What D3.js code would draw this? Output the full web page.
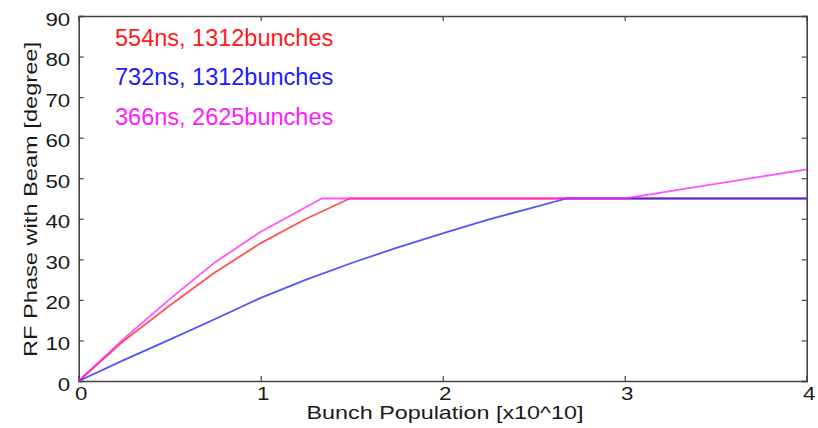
<!DOCTYPE html>
<html>
<head>
<meta charset="utf-8">
<script src="https://cdn.jsdelivr.net/npm/d3@7/dist/d3.min.js"></script>
<style>
  html, body { margin: 0; padding: 0; background: #fff; }
  svg { display: block; }
  text { font-family: "Liberation Sans", Arial, Helvetica, sans-serif; }
</style>
</head>
<body>
<svg id="chart" width="818" height="428"></svg>
<script>
// Bunch population [x10^10] and RF phase [degree] per filling scheme
const popRed     = [0, 0.25, 0.5, 0.75, 1, 1.25, 1.49, 4];
const phaseRed   = [0, 10.0, 18.6, 26.8, 34.0, 40.0, 45, 45];

const popBlue    = [0, 0.25, 0.5, 0.75, 1, 1.25, 1.5, 1.75, 2, 2.25, 2.5, 2.68, 4];
const phaseBlue  = [0, 5.2, 10.2, 15.3, 20.5, 25.0, 29.1, 32.9, 36.4, 39.8, 42.8, 45, 45];

const popMag     = [0, 0.25, 0.5, 0.75, 1, 1.25, 1.335, 3, 3.25, 3.5, 3.75, 4];
const phaseMag   = [0, 10.5, 20.2, 29.3, 36.8, 42.9, 45, 45, 46.8, 48.6, 50.4, 52.2];

const seriesNames  = ["554ns, 1312bunches", "732ns, 1312bunches", "366ns, 2625bunches"];
const seriesColors = ["#ff1a1a", "#1a1aff", "#ff1aff"];

const xTicks = [0, 1, 2, 3, 4];
const yTicks = [0, 10, 20, 30, 40, 50, 60, 70, 80, 90];

const xTitle = "Bunch Population [x10^10]";
const yTitle = "RF Phase with Beam [degree]";

(function draw() {
  const svg = d3.select("#chart");
  const L = 78.7, R = 806.7, T = 16, B = 381;

  const x = d3.scaleLinear().domain([0, 4]).range([L, R]);
  const y = d3.scaleLinear().domain([0, 90]).range([B, T]);

  const axisColor = "#444";
  const textColor = "#1a1a1a";
  const tickLen = 5;
  const fontSize = 18.6;
  const stretch = 1.2;

  // Axes with inward ticks on all four sides
  const axBottom = svg.append("g").attr("transform", `translate(0,${B})`)
    .call(d3.axisBottom(x).tickValues(xTicks).tickSize(-tickLen).tickFormat(d3.format("d")));
  const axTop = svg.append("g").attr("transform", `translate(0,${T})`)
    .call(d3.axisTop(x).tickValues(xTicks).tickSize(-tickLen).tickFormat(""));
  const axLeft = svg.append("g").attr("transform", `translate(${L},0)`)
    .call(d3.axisLeft(y).tickValues(yTicks).tickSize(-tickLen).tickFormat(d3.format("d")));
  const axRight = svg.append("g").attr("transform", `translate(${R},0)`)
    .call(d3.axisRight(y).tickValues(yTicks).tickSize(-tickLen).tickFormat(""));

  [axBottom, axTop, axLeft, axRight].forEach(g => {
    g.select(".domain").attr("stroke", axisColor).attr("stroke-width", 1.6);
    g.selectAll(".tick line").attr("stroke", axisColor).attr("stroke-width", 1.2);
  });

  // Tick labels, slightly widened
  axBottom.selectAll(".tick text")
    .attr("font-size", fontSize).attr("fill", textColor)
    .attr("y", 0).attr("dy", 0)
    .attr("transform", `translate(2,18.5) scale(${stretch},1)`);
  axLeft.selectAll(".tick text")
    .attr("font-size", fontSize).attr("fill", textColor)
    .attr("x", 0).attr("dy", 0)
    .attr("text-anchor", "end")
    .attr("transform", `translate(-8.5,9) scale(${stretch},1)`);

  // Series lines
  const line = d3.line().x(d => x(d[0])).y(d => y(d[1]));
  const series = [
    d3.zip(popRed, phaseRed),
    d3.zip(popBlue, phaseBlue),
    d3.zip(popMag, phaseMag)
  ];
  series.forEach((pts, i) => {
    svg.append("path")
      .datum(pts)
      .attr("fill", "none")
      .attr("stroke", seriesColors[i])
      .attr("stroke-opacity", 0.75)
      .attr("stroke-width", 1.8)
      .attr("stroke-linejoin", "round")
      .attr("d", line);
  });

  // Series labels
  seriesNames.forEach((name, i) => {
    svg.append("text")
      .attr("x", 115)
      .attr("y", 45.7 + i * 39.7)
      .attr("font-size", 23.5)
      .attr("fill", seriesColors[i])
      .text(name);
  });

  // Axis titles
  svg.append("text")
    .attr("x", 445).attr("y", 419)
    .attr("text-anchor", "middle")
    .attr("font-size", fontSize)
    .attr("fill", textColor)
    .attr("textLength", 277)
    .attr("lengthAdjust", "spacingAndGlyphs")
    .text(xTitle);

  svg.append("text")
    .attr("transform", "translate(37,199.5) rotate(-90)")
    .attr("text-anchor", "middle")
    .attr("font-size", fontSize)
    .attr("fill", textColor)
    .attr("textLength", 315)
    .attr("lengthAdjust", "spacingAndGlyphs")
    .text(yTitle);
})();
</script>
</body>
</html>
